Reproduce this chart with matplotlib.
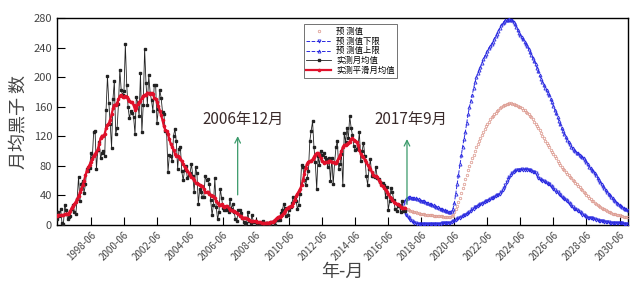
import numpy as np
import matplotlib
matplotlib.use("Agg")
import matplotlib.pyplot as plt

plt.rcParams['font.family'] = ['Noto Sans CJK SC', 'DejaVu Sans']

# observed monthly mean sunspot number, monthly from 1996-05
obs_start = (1996, 5)
obs_monthly = [
    8.3, 17.7, 12.3, 21.6, 2.4, 1.4, 26.9, 20.0,
    8.2, 10.9, 12.4, 22.2, 26.5, 18.2, 14.9, 34.9, 65.0, 32.6, 55.8, 58.9,
    43.7, 55.2, 75.1, 73.2, 77.1, 96.9, 91.2, 126.3, 127.3, 76.0, 101.4, 112.2,
    90.5, 96.8, 100.4, 93.0, 155.3, 201.0, 165.7, 136.8, 104.4, 170.4, 194.5, 123.5,
    130.6, 163.7, 210.0, 182.0, 176.3, 181.1, 244.3, 189.2, 159.1, 144.1, 154.9, 151.4,
    146.3, 123.3, 173.7, 164.8, 147.8, 205.0, 125.2, 162.8, 238.2, 192.0, 163.0, 202.3,
    179.1, 168.6, 154.5, 189.5, 189.7, 138.6, 156.4, 182.7, 172.1, 153.1, 149.9, 126.9,
    124.3, 71.8, 95.3, 93.6, 86.1, 120.7, 129.9, 113.4, 76.0, 102.2, 105.0, 72.5,
    60.4, 74.2, 79.5, 63.7, 67.2, 70.0, 82.8, 66.3, 44.9, 77.8, 70.5, 29.0,
    48.2, 45.0, 37.7, 37.6, 65.8, 60.5, 61.8, 55.7, 33.6, 13.4, 27.7, 63.4,
    24.8, 7.9, 17.2, 48.9, 36.1, 22.5, 19.8, 20.9, 23.3, 17.0, 34.7, 22.0,
    28.2, 18.0, 7.6, 5.7, 19.7, 20.3, 16.3, 10.1, 4.0, 1.5, 2.9, 17.0,
    4.8, 3.0, 13.5, 4.2, 4.6, 4.9, 1.2, 0.7, 1.6, 4.2, 5.9, 1.2,
    2.3, 2.2, 1.1, 1.9, 4.5, 4.5, 5.0, 0.0, 6.5, 7.1, 6.5, 16.4,
    19.8, 28.1, 23.3, 11.9, 13.3, 20.4, 24.3, 29.6, 38.1, 35.5, 32.6, 21.9,
    27.6, 42.6, 81.5, 78.9, 60.3, 53.7, 63.5, 73.4, 113.1, 127.6, 140.2, 105.9,
    85.1, 48.3, 93.7, 80.6, 100.7, 94.2, 97.1, 92.0, 89.6, 77.8, 90.2, 59.6,
    91.2, 55.1, 84.0, 105.0, 114.1, 76.1, 82.7, 95.7, 53.7, 124.1, 112.5, 130.9,
    117.3, 147.0, 131.8, 121.1, 107.5, 101.5, 103.5, 106.7, 125.3, 86.7, 100.2, 111.5,
    93.0, 66.7, 54.5, 75.3, 88.8, 66.5, 65.8, 64.4, 78.6, 63.6, 62.2, 58.0,
    57.0, 56.4, 54.1, 37.9, 51.5, 20.5, 32.4, 50.2, 44.6, 33.4, 21.4, 18.5,
    26.1, 26.4, 17.7, 32.3, 18.9, 19.2,
]

# observed smoothed monthly mean, same months
obs_smoothed = [
    11.9, 13.4, 13.5, 13.1, 12.9, 13.3, 14.5, 15.2, 15.4, 16.0,
    19.2, 23.1, 25.6, 28.4, 31.5, 34.8, 39.3, 44.0, 48.3, 53.7,
    60.1, 67.1, 73.5, 77.9, 81.6, 85.7, 89.9, 93.6, 96.4, 98.3,
    102.4, 109.9, 117.4, 120.9, 120.4, 123.4, 131.2, 135.6, 137.7, 142.2,
    149.5, 157.8, 162.4, 162.4, 164.9, 170.3, 174.8, 176.0, 173.2, 172.7,
    174.5, 173.5, 170.3, 168.1, 166.2, 166.0, 162.0, 156.0, 158.2, 163.5,
    165.8, 168.2, 171.7, 175.0, 176.1, 176.3, 179.1, 178.1, 176.6, 178.7,
    176.8, 172.4, 170.3, 166.6, 161.1,
    154.8, 148.3, 141.9, 133.5, 128.5, 126.6, 122.6, 115.8, 109.6, 105.6,
    101.5, 96.6, 94.0, 93.4, 91.5, 89.5, 86.6, 82.5, 78.6, 75.4,
    73.0, 70.6, 67.3, 65.0, 63.3, 60.3, 57.5, 56.4, 55.9, 54.6,
    53.3, 52.4, 49.3, 44.8, 44.4, 44.9, 42.4, 40.0, 39.6, 38.8,
    36.0, 32.7, 29.5, 27.6, 27.3, 27.8, 26.3, 24.7, 25.3, 25.3,
    23.1, 20.6, 19.9, 19.6, 19.0, 17.8, 16.3, 14.4, 12.8, 11.6,
    10.0, 9.7, 9.8, 9.1, 7.9, 6.6, 5.6, 5.1, 5.1, 5.3,
    4.8, 4.0, 3.9, 3.4, 2.7, 2.6, 2.6, 2.8, 2.9, 3.1,
    3.4, 3.5, 4.2, 5.6, 7.4, 9.4, 10.7, 11.5, 12.5, 14.0,
    16.0, 18.6, 21.1, 23.4, 24.7, 25.2, 26.2, 29.2, 34.4, 39.1,
    42.5, 45.5, 49.0, 53.9, 60.9, 69.2, 77.2, 83.1, 85.7, 86.5,
    87.0, 88.8, 92.2, 95.3, 97.4, 97.2, 94.2, 90.0, 86.0, 84.3,
    84.9, 84.7, 85.4, 86.9, 86.7, 85.4, 84.9, 83.6, 84.0, 86.9,
    90.8, 94.8, 99.8, 105.6, 108.2, 108.6, 109.4, 111.4, 112.7, 116.1,
    117.5, 115.5, 114.2, 112.3, 108.0, 101.4, 96.3, 93.6, 91.4, 88.3,
    85.0, 81.3, 78.4, 75.8, 72.0, 68.3, 66.4, 65.9, 64.3, 61.2,
    57.8, 54.4, 52.5, 50.4, 47.8, 44.8, 41.5, 38.5, 36.0, 33.2,
    31.5, 29.9, 28.5, 28.3, 27.0, 24.9, 23.2, 22.6, 23.1,
]

# forecast, monthly from 2017-05
fc_start = (2017, 5)
fc_upper = [
    30, 33, 35, 37, 38, 38, 37, 37,
    36, 36, 35, 35, 34, 33, 33, 32, 31, 30, 30, 29,
    28, 27, 27, 26, 25, 24, 23, 22, 21, 20, 20, 19,
    19, 18, 18, 19, 22, 30, 42, 55, 68, 82, 95, 106,
    116, 126, 138, 150, 160, 168, 176, 185, 193, 200, 205, 210,
    214, 219, 224, 228, 232, 236, 239, 242, 245, 248, 252, 256,
    259, 263, 267, 270, 273, 275, 277, 278, 278, 279, 278, 277,
    275, 272, 268, 264, 260, 257, 254, 251, 248, 245, 242, 238,
    234, 230, 226, 222, 218, 213, 208, 203, 198, 194, 190, 186,
    182, 179, 176, 171, 166, 161, 156, 151, 146, 141, 136, 131,
    127, 123, 119, 115, 112, 109, 106, 104, 102, 100, 98, 97,
    95, 94, 92, 90, 88, 85, 82, 79, 77, 75, 73, 70,
    67, 64, 61, 58, 56, 53, 50, 47, 44, 42, 40, 38,
    36, 34, 32, 30, 29, 27, 26, 24, 23, 22, 21, 20,
]
fc_lower = [
    22, 18, 14, 11, 9, 7, 5, 4,
    3, 2.5, 2, 2, 1.5, 1.5, 1.5, 1.5, 1.5, 1.5, 1.5, 1.5,
    1.5, 1.5, 1.5, 1.5, 1.5, 1.8, 2, 2, 2.2, 2.4, 2.6, 2.8,
    3, 3, 3, 4, 5, 6, 7, 8, 9, 10, 11, 12,
    13, 14, 15, 16, 17, 19, 21, 22, 24, 25, 26, 27,
    28, 29, 30, 31, 32, 33, 34, 35, 36, 37, 38, 39,
    40, 41, 42, 44, 47, 50, 54, 58, 62, 65, 68, 70,
    72, 73, 74, 74, 75, 75, 76, 75, 75, 76, 75, 74,
    74, 73, 72, 72, 70, 67, 64, 62, 61, 60, 59, 58,
    57, 56, 55, 53, 51, 49, 47, 45, 44, 42, 40, 38,
    37, 35, 34, 32, 30, 28, 26, 24, 22, 21, 20, 19,
    17, 16, 14, 13, 12, 11, 10, 10, 9, 9, 8, 8,
    7, 7, 6, 6, 5, 5, 4, 4, 4, 4, 3, 3,
    3, 3, 3, 3, 3, 2.5, 2.5, 2.5, 2, 2, 2, 2,
]
fc_pred = [
    25, 23, 22, 21, 20, 19, 18.5, 18,
    17.5, 17, 16.5, 16, 15.5, 15, 14.8, 14.5, 14.2, 14, 13.8, 13.5,
    13.3, 13, 12.8, 12.6, 12.4, 12.2, 12, 11.8, 11.6, 11.4, 11.2, 11,
    11, 11, 11, 12, 14, 17, 21, 26, 31, 37, 43, 50,
    56, 62, 68, 74, 80, 85, 90, 95, 100, 105, 110, 114,
    118, 122, 126, 130, 134, 137, 140, 143, 146, 148, 150, 152,
    154, 156, 158, 160, 161, 162, 163, 164, 164, 165, 165, 164,
    164, 163, 162, 161, 160, 159, 158, 156, 155, 153, 152, 150,
    148, 146, 143, 140, 137, 134, 131, 128, 124, 121, 118, 114,
    111, 108, 105, 102, 99, 96, 93, 90, 87, 84, 81, 78,
    76, 74, 72, 69, 67, 65, 63, 61, 59, 57, 55, 53,
    51, 49, 47, 45, 43, 41, 39, 37, 35, 33, 32, 30,
    29, 27, 26, 25, 23, 22, 21, 20, 19, 18, 17, 16,
    15.5, 15, 14.5, 14, 13.5, 13, 12.5, 12, 11.5, 11, 10.8, 10.5,
]

tick_labels = ["1998-06", "2000-06", "2002-06", "2004-06", "2006-06", "2008-06",
               "2010-06", "2012-06", "2014-06", "2016-06", "2018-06", "2020-06",
               "2022-06", "2024-06", "2026-06", "2028-06", "2030-06"]
legend_labels = ["预 测值", "预 测值下限", "预 测值上限", "实测月均值", "实测平滑月均值"]
annotations = ["2006年12月", "2017年9月"]


def month_axis(start, n):
    y, m = start
    return y + (m - 1) / 12 + np.arange(n) / 12


def label_to_t(s):
    y, m = s.split("-")
    return int(y) + (int(m) - 1) / 12


t_obs = month_axis(obs_start, len(obs_monthly))
t_fc = month_axis(fc_start, len(fc_upper))

fig = plt.figure(figsize=(6.4, 2.91), dpi=100)
ax = fig.add_axes([0.089, 0.2268, 0.892, 0.7112])

blue = '#2a2ae0'
ax.plot(t_fc, fc_pred, linestyle='none', marker='o', ms=1.8, mfc='none',
        mec='#dd9a90', mew=0.55, label=legend_labels[0], zorder=3)
ax.plot(t_fc, fc_lower, linestyle='--', lw=0.7, color=blue, marker='v', ms=2.2,
        mfc='none', mew=0.6, label=legend_labels[1], zorder=3)
ax.plot(t_fc, fc_upper, linestyle='--', lw=0.7, color=blue, marker='^', ms=2.2,
        mfc='none', mew=0.6, label=legend_labels[2], zorder=3)
ax.plot(t_obs, obs_monthly, color='#222222', lw=0.6, marker='s', ms=1.6,
        label=legend_labels[3], zorder=4)
ax.plot(t_obs, obs_smoothed, color='#e0102a', lw=1.6, marker='o', ms=1.6,
        label=legend_labels[4], zorder=5)

green = '#3a9a6a'
ax.annotate('', xy=(2007.3, 124), xytext=(2007.3, 37),
            arrowprops=dict(arrowstyle='->', color=green, lw=0.9))
ax.text(2007.65, 143, annotations[0], ha='center', va='center', fontsize=11, color='#3a2a2a')
ax.annotate('', xy=(2017.55, 120), xytext=(2017.55, 24),
            arrowprops=dict(arrowstyle='->', color=green, lw=0.9))
ax.text(2017.8, 143, annotations[1], ha='center', va='center', fontsize=11, color='#3a2a2a')

ax.set_xlim(1996.36, 2030.92)
ax.set_ylim(0, 280)
ax.set_yticks(range(0, 281, 40))
ax.set_xticks([label_to_t(s) for s in tick_labels])
ax.set_xticklabels(tick_labels, rotation=45, ha='right', rotation_mode='anchor',
                   fontsize=7, color='#444444')
ax.tick_params(axis='y', labelsize=8, labelcolor='#444444')
ax.tick_params(direction='in', length=6, width=0.8)
for s in ax.spines.values():
    s.set_linewidth(1.0)

ax.set_ylabel("月均黑子 数", fontsize=13, color='#444444', labelpad=4)
ax.set_xlabel("年-月", fontsize=13, color='#444444', labelpad=0)

leg = ax.legend(loc='upper left', bbox_to_anchor=(0.425, 0.99), fontsize=6,
                frameon=True, fancybox=False, edgecolor='#333333',
                handlelength=3, borderpad=0.3, labelspacing=0.1, handletextpad=0.6)
leg.get_frame().set_linewidth(0.6)

fig.savefig("out.png", dpi=100)
